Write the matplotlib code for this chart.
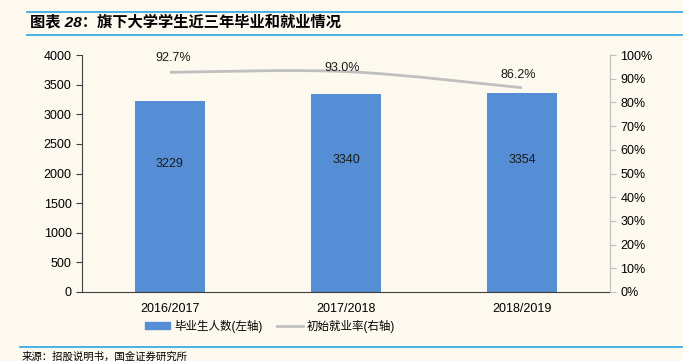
import numpy as np
import matplotlib
matplotlib.use("Agg")
from matplotlib import pyplot as plt
from matplotlib.path import Path
from matplotlib.patches import PathPatch
from matplotlib.lines import Line2D

plt.rcParams['font.family'] = ['Liberation Sans', 'Noto Sans CJK SC', 'DejaVu Sans']

years = ["2016/2017", "2017/2018", "2018/2019"]
graduates = [3229, 3340, 3354]
emp_rate = [92.7, 93.0, 86.2]
left_ticks = [0, 500, 1000, 1500, 2000, 2500, 3000, 3500, 4000]
right_ticks = [0, 10, 20, 30, 40, 50, 60, 70, 80, 90, 100]

bg = "#FDF9EF"
blue = "#558ED5"
gray = "#BFBFBF"
rule = "#2EA3E6"

fig = plt.figure(figsize=(6.83, 3.61), dpi=100, facecolor=bg)
ax = fig.add_axes([82/683, 1-292/361, 528/683, 237/361], facecolor=bg)
ax2 = ax.twinx()

x = np.arange(len(years))
ax.bar(x, graduates, width=0.40, color=blue, zorder=2)
# excel put the value labels a bit above the bar middle
for xi, v in zip(x, graduates):
    ax.text(xi, v*0.5 + 550, str(v), ha="center", va="center", fontsize=9, color="#1a1a1a")

ax.set_xlim(-0.5, 2.5)
ax.set_ylim(0, 4000)
ax.set_yticks(left_ticks)
ax.set_xticks(x)
ax.set_xticklabels(years)
ax.tick_params(axis="x", length=0, labelsize=9, pad=8)
ax.tick_params(axis="y", length=4, labelsize=9, direction="out", color="#404040")
for s in ["top", "right"]:
    ax.spines[s].set_visible(False)
ax.spines["left"].set_color("#404040")
ax.spines["bottom"].set_color("#404040")

# smooth line (Catmull-Rom -> bezier), like excel's smoothed line
ax2.set_ylim(0, 100)
ax2.set_yticks(right_ticks)
ax2.set_yticklabels([f"{t}%" for t in right_ticks])
ax2.tick_params(axis="y", length=4, labelsize=9, color=gray)
for s in ["top", "left", "bottom"]:
    ax2.spines[s].set_visible(False)
ax2.spines["right"].set_color(gray)

pts = np.column_stack([x, emp_rate]).astype(float)
ext = np.vstack([pts[0], pts, pts[-1]])
verts = [tuple(pts[0])]
codes = [Path.MOVETO]
for i in range(1, len(ext) - 2):
    p0, p1, p2, p3 = ext[i-1], ext[i], ext[i+1], ext[i+2]
    c1 = p1 + (p2 - p0) / 6
    c2 = p2 - (p3 - p1) / 6
    verts += [tuple(c1), tuple(c2), tuple(p2)]
    codes += [Path.CURVE4] * 3
ax2.add_patch(PathPatch(Path(verts, codes), fill=False, edgecolor=gray, lw=2, zorder=3))
lbl_off = [(2, 6), (-3, -2), (-3, 5)]
for xi, r, off in zip(x, emp_rate, lbl_off):
    ax2.annotate(f"{r:.1f}%", (xi, r), xytext=off, textcoords="offset points",
                 ha="center", va="bottom", fontsize=9, color="#1a1a1a")

handles = [plt.Rectangle((0, 0), 1, 1, color=blue),
           Line2D([0], [0], color=gray, lw=2)]
fig.legend(handles, ["毕业生人数(左轴)", "初始就业率(右轴)"], loc="center",
           bbox_to_anchor=(270/683, 1-326/361), ncol=2, frameon=False, fontsize=8.3,
           handlelength=2.2, handleheight=0.6, columnspacing=1.3, handletextpad=0.35)

# header / footer
fig.add_artist(Line2D([27/683, 1], [1-12/361]*2, color=rule, lw=1.2))
fig.add_artist(Line2D([27/683, 1], [1-35/361]*2, color=rule, lw=1.2))
fig.add_artist(Line2D([20/683, 1], [1-347/361]*2, color=rule, lw=1.2))
fig.text(30/683, 1-22/361, "图表 28：旗下大学学生近三年毕业和就业情况", fontsize=11,
         fontweight="bold", style="italic", va="center", ha="left",
         family=['Liberation Sans', 'Noto Sans CJK SC'])
fig.text(22/683, 1-357/361, "来源：招股说明书，国金证券研究所", fontsize=7.5, va="center",
         ha="left", family=['Noto Sans CJK SC'])

fig.savefig("out.png", dpi=100, facecolor=bg)
